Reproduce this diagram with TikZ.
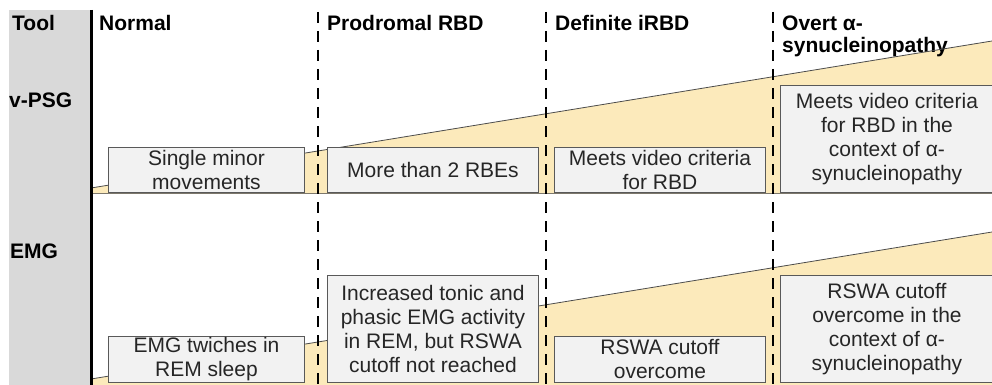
\documentclass[tikz,border=0pt]{standalone}
\usepackage{fontspec}
\setmainfont{Liberation Sans}
\definecolor{colgray}{RGB}{217,217,217}
\definecolor{wedge}{RGB}{252,234,187}
\definecolor{boxfill}{RGB}{242,242,242}
\definecolor{boxline}{RGB}{89,89,89}
\definecolor{txt}{RGB}{38,38,38}
\definecolor{bandline}{RGB}{125,120,108}
\begin{document}
\begin{tikzpicture}[x=1pt,y=-1pt,
  hdr/.style={anchor=base west,inner sep=0pt,font=\fontsize{21}{22}\selectfont\bfseries,text=black},
  stagebox/.style={draw=boxline,line width=0.9pt,fill=boxfill,anchor=north west,inner sep=0pt,
     text=txt,align=center,font=\fontsize{21}{24}\selectfont},
  divider/.style={line width=2.7pt,dash pattern=on 11pt off 8pt,black},
  wedgeline/.style={draw=black!70,line width=0.8pt}]
\useasboundingbox (0,0) rectangle (992,385);
% tool column
\fill[colgray] (9,10) rectangle (91,386);
% wedges
\fill[wedge] (91,188) -- (992,41) -- (992,193) -- (91,193) -- cycle;
\fill[wedge] (91,379) -- (992,232) -- (992,386) -- (91,386) -- cycle;
% headers
\node[hdr] (tool) at (12,31) {Tool};
\node[hdr] (normal) at (99,31) {Normal};
\node[hdr] (prod) at (327,31) {Prodromal RBD};
\node[hdr] (defi) at (555,31) {Definite iRBD};
\node[hdr] (overt1) at (782,31) {Overt α-};
\node[hdr] (overt2) at (782,53) {synucleinopathy};
\node[hdr] (vpsg) at (9,107) {v-PSG};
\node[hdr] (emg) at (10,258) {EMG};
% wedge lines
\coordinate (wa) at (91,188); \coordinate (wb) at (992,41);
\coordinate (wc) at (91,379); \coordinate (wd) at (992,232);
\draw[wedgeline] (wa) -- (wb);
\draw[wedgeline] (wc) -- (wd);
% band bottom line
\coordinate (la) at (91,193.5); \coordinate (lb) at (992,193.5);
\draw[bandline,line width=1.6pt] (la) -- (lb);
% dividers
\coordinate (d1t) at (318,12); \coordinate (d1b) at (318,386);
\coordinate (d2t) at (546,12); \coordinate (d2b) at (546,386);
\coordinate (d3t) at (773,12); \coordinate (d3b) at (773,386);
\draw[divider] (d1t) -- (d1b);
\draw[divider] (d2t) -- (d2b);
\draw[divider] (d3t) -- (d3b);
\coordinate (st) at (91.5,10); \coordinate (sb) at (91.5,386);
\draw[black,line width=2.6pt] (st) -- (sb);
% v-PSG boxes
\node[stagebox,minimum width=196pt,minimum height=45pt] (s1) at (108,147)
  {\baselineskip=22.5pt Single minor\\movements};
\node[stagebox,minimum width=211pt,minimum height=45pt] (s2) at (327,147)
  {More than 2 RBEs};
\node[stagebox,minimum width=211pt,minimum height=45pt] (s3) at (554,147)
  {\baselineskip=22.5pt Meets video criteria\\for RBD};
\node[stagebox,minimum width=213pt,minimum height=107pt] (s4) at (780,85)
  {Meets video criteria\\for RBD in the\\context of α-\\synucleinopathy};
% EMG boxes
\node[stagebox,minimum width=196pt,minimum height=46pt] (e1) at (108,336)
  {\baselineskip=22.5pt EMG twiches in\\REM sleep};
\node[stagebox,minimum width=211pt,minimum height=107pt] (e2) at (327,275)
  {\baselineskip=25.5pt Increased tonic and\\phasic EMG activity\\in REM, but RSWA\\cutoff not reached};
\node[stagebox,minimum width=211pt,minimum height=46pt] (e3) at (554,336)
  {\baselineskip=22.5pt RSWA cutoff\\overcome};
\node[stagebox,minimum width=213pt,minimum height=107pt] (e4) at (780,275)
  {RSWA cutoff\\overcome in the\\context of α-\\synucleinopathy};
\end{tikzpicture}
\end{document}
